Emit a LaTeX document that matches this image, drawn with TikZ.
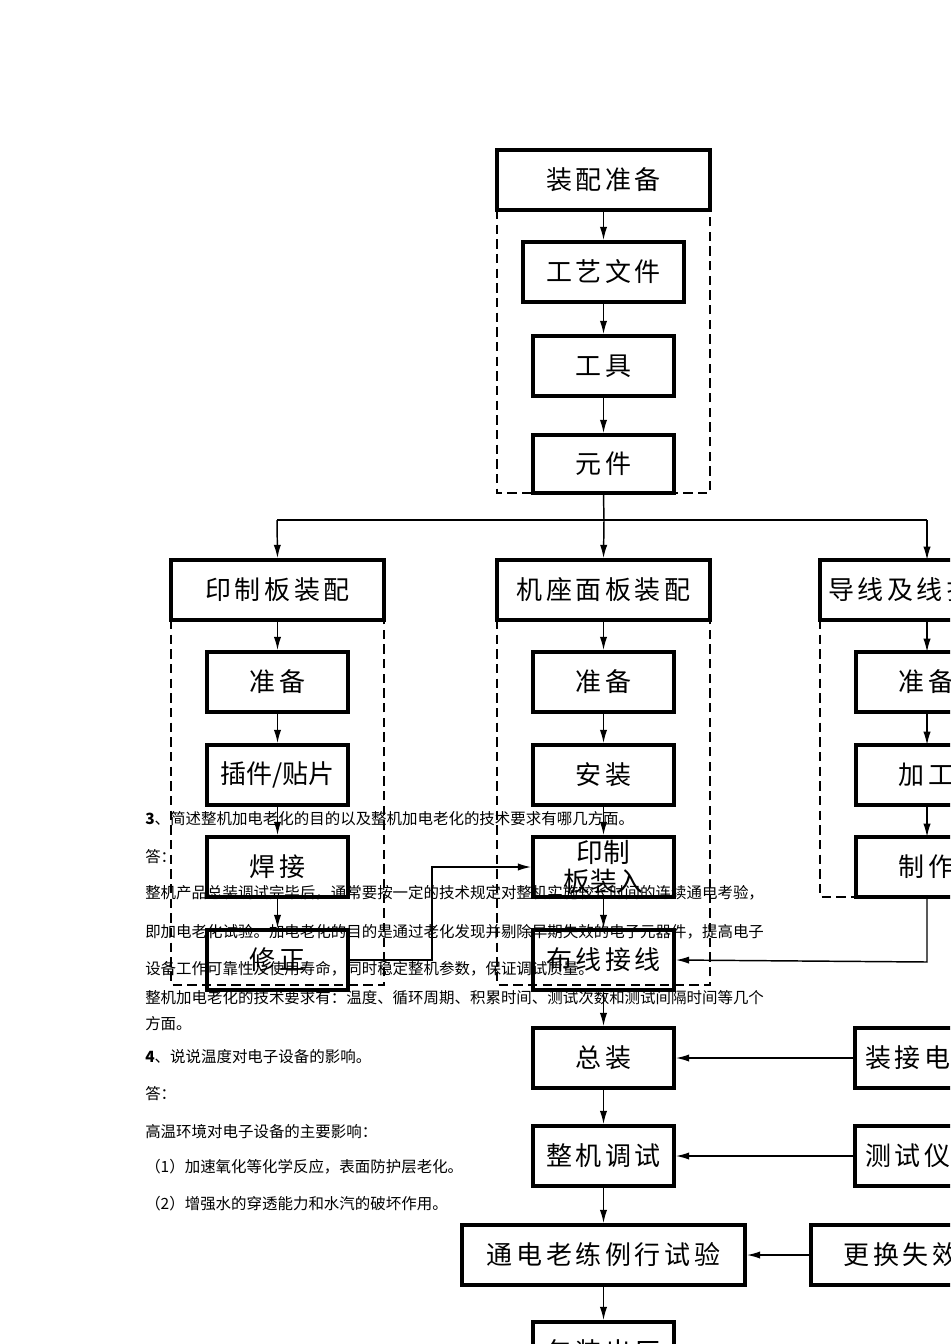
\documentclass[tikz,border=0pt]{standalone}
\usepackage{fontspec}
\setmainfont{Liberation Serif}
\newfontfamily\cjk{Noto Sans CJK SC}
\newfontfamily\cjkbox[LetterSpace=14]{Noto Sans CJK SC}
\usetikzlibrary{arrows.meta}
\tikzset{
  box/.style={draw,line width=2.8pt,inner sep=0pt,font=\cjkbox\fontsize{19.5}{22}\selectfont},
  grp/.style={draw,line width=1.5pt,dash pattern=on 7pt off 4pt},
  arr/.style={line width=1.1pt,-{Latex[length=10pt,width=5.5pt]}},
  ln/.style={line width=1.1pt},
  para/.style={anchor=west,inner sep=0pt,font=\cjk\fontsize{11.6}{12}\selectfont}
}
\newcommand{\bx}[6]{\node[box,minimum width={(#4-#2)*0.75pt},minimum height={(#5-#3)*0.75pt}] (#1) at ({(#2+#4)/2},{(#3+#5)/2}) {#6};}
\begin{document}
\begin{tikzpicture}[x=0.75pt,y=-0.75pt]
\useasboundingbox (0,0) rectangle (950,1344);
\clip (0,0) rectangle (950,1344);
% top group
\bx{zp}{497}{150}{710}{210}{装配准备}
\draw[grp] (497,210) -- (497,493) -- (710,493) -- (710,210);
\bx{gy}{523}{242}{684}{302}{工艺文件}
\bx{gj}{533}{336}{674}{396}{工具}
\bx{yj}{533}{435}{674}{493}{元件}
\draw[arr] (zp) -- (gy);
\draw[arr] (gy) -- (gj);
\draw[arr] (gj) -- (yj);
% three branches
\bx{yzb}{171}{560}{384}{620}{印制板装配}
\bx{jz}{497}{560}{710}{620}{机座面板装配}
\bx{dx}{820}{560}{1040}{620}{导线及线扎加工}
\coordinate (s) at (604,520);
\draw[ln] (yj.south) -- (s);
\draw[ln] (277,520) -- (927,520);
\draw[arr] (277,520) -- (yzb.north);
\draw[arr] (s) -- (jz.north);
\draw[arr] (927,520) -- (927,560);
\draw[grp] (171,620) -- (171,985) -- (384,985) -- (384,620);
\draw[grp] (497,620) -- (497,985) -- (710,985) -- (710,620);
\draw[grp] (820,620) -- (820,897) -- (1040,897);
% left column
\bx{l1}{207}{652}{348}{712}{准备}
\node[box,minimum width={141*0.75pt},minimum height={60*0.75pt},font=\cjk\fontsize{19.5}{22}\selectfont] (l2) at (277.5,775) {插件/贴片};
\bx{l3}{207}{837}{348}{897}{焊接}
\bx{l4}{207}{930}{348}{990}{修正}
\draw[arr] (yzb) -- (l1);
\draw[arr] (l1) -- (l2);
\draw[arr] (l2) -- (l3);
\draw[arr] (l3) -- (l4);
% middle column
\bx{m1}{533}{652}{674}{712}{准备}
\bx{m2}{533}{745}{674}{805}{安装}
\node[box,minimum width={141*0.75pt},minimum height={60*0.75pt},align=center,font=\cjk\fontsize{20}{22}\selectfont] (m3) at (603.5,867) {印制\\板装入};
\bx{m4}{533}{930}{674}{990}{布线接线}
\draw[arr] (jz) -- (m1);
\draw[arr] (m1) -- (m2);
\draw[arr] (m2) -- (m3);
\draw[arr] (m3) -- (m4);
% right column
\bx{r1}{856}{652}{997}{712}{准备}
\bx{r2}{856}{745}{997}{805}{加工}
\bx{r3}{856}{837}{997}{897}{制作}
\draw[arr] (927,620) -- (927,652);
\draw[arr] (927,712) -- (927,745);
\draw[arr] (927,805) -- (927,837);
\draw[arr] (927,897) -- (927,962) -- (m4.east);
\draw[arr] (l4.east) -- (432,960) -- (432,867) -- (m3.west);
% bottom
\bx{b1}{533}{1028}{674}{1088}{总装}
\bx{b2}{533}{1126}{674}{1186}{整机调试}
\bx{b3}{462}{1225}{745}{1285}{通电老练例行试验}
\bx{b4}{533}{1322}{674}{1382}{包装出厂}
\draw[arr] (m4) -- (b1);
\draw[arr] (b1) -- (b2);
\draw[arr] (b2) -- (b3);
\draw[arr] (b3) -- (b4);
\bx{e1}{855}{1028}{990}{1088}{装接电器}
\bx{e2}{855}{1126}{990}{1186}{测试仪器}
\bx{e3}{811}{1225}{1050}{1285}{更换失效元件}
\draw[arr] (e1) -- (b1);
\draw[arr] (e2) -- (b2);
\draw[arr] (e3) -- (b3);
% text
\node[para] (t1) at (145,819) {\textbf{3}、简述整机加电老化的目的以及整机加电老化的技术要求有哪几方面。};
\node[para] (t2) at (145,857) {答：};
\node[para] (t3) at (145,893) {整机产品总装调试完毕后，通常要按一定的技术规定对整机实施较长时间的连续通电考验，};
\node[para] (t4) at (145,932) {即加电老化试验。加电老化的目的是通过老化发现并剔除早期失效的电子元器件，提高电子};
\node[para] (t5) at (145,969) {设备工作可靠性及使用寿命，同时稳定整机参数，保证调试质量。};
\node[para] (t6) at (145,998) {整机加电老化的技术要求有：温度、循环周期、积累时间、测试次数和测试间隔时间等几个};
\node[para] (t7) at (145,1024) {方面。};
\node[para] (t8) at (145,1057) {\textbf{4}、说说温度对电子设备的影响。};
\node[para] (t9) at (145,1094) {答：};
\node[para] (t10) at (145,1132) {高温环境对电子设备的主要影响：};
\node[para] (t11) at (145,1167) {（1）加速氧化等化学反应，表面防护层老化。};
\node[para] (t12) at (145,1204) {（2）增强水的穿透能力和水汽的破坏作用。};
\end{tikzpicture}
\end{document}
